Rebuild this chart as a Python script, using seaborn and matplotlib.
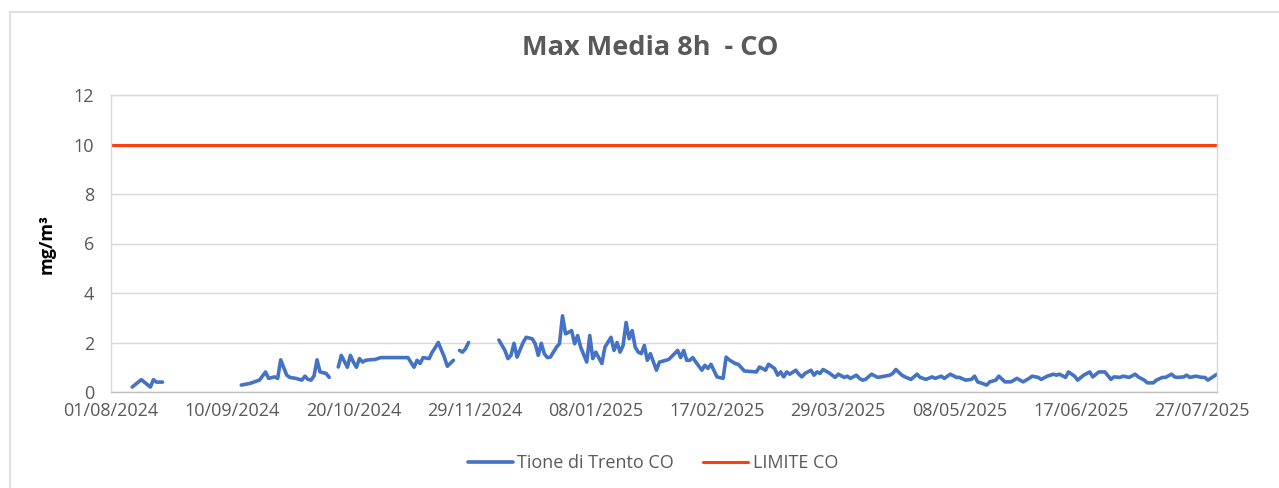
import numpy as np
import pandas as pd
import matplotlib
matplotlib.use("Agg")
import matplotlib.pyplot as plt
import matplotlib.dates as mdates
from matplotlib.patches import Rectangle
import seaborn as sns

# Daily max 8h mean CO (day offset from 01/08/2024, mg/m3)
start_date = "2024-08-01"
days = [
    7, 10, 13, 14, 15, 17, None,
    43, 46, 48, 49, 51, 52, 54, 55, 56, 58, 59, 61, 63, 64, 65, 66, 67, 68, 69, 71, 72, None,
    75, 76, 78, 79, 80, 81, 82, 83, 84, 86, 87, 89, 98, 100, 101, 102, 103, 105, 106, 107, 108,
    110, 111, 113, None,
    115, 116, 117, 118, None,
    128, 130, 131, 132, 133, 134, 136, 137, 139, 140, 141, 142, 143, 144, 145, 147, 148, 149,
    150, 151, 152, 153, 154, 155, 157, 158, 159, 160, 162, 163, 165, 166, 167, 168, 169, 170,
    171, 172, 173, 174, 175, 176, 177, 178, 180, 181, 184, 186, 187, 188, 189, 190, 191, 192,
    193, 195, 196, 197, 198, 200, 202, 203, 204, 206, 207, 209, 213, 214, 215, 216, 217, 219,
    220, 221, 222, 223, 224, 226, 227, 228, 229, 231, 232, 233, 234, 235, 237, 239, 240, 242,
    243, 244, 246, 247, 248, 249, 251, 253, 254, 257, 258, 259, 261, 262, 264, 266, 267, 269,
    271, 272, 274, 275, 277, 279, 280, 282, 284, 285, 286, 287, 289, 290, 292, 293, 295, 297,
    299, 301, 303, 304, 306, 307, 309, 311, 312, 313, 315, 316, 318, 319, 321, 323, 324, 326,
    328, 330, 331, 333, 334, 336, 338, 339, 341, 342, 344, 345, 347, 348, 350, 351, 352, 354,
    355, 356, 358, 360, 361, 362, 364, 365,
]
co_values = [
    0.2, 0.5, 0.2, 0.5, 0.4, 0.4, None,
    0.28, 0.35, 0.44, 0.48, 0.81, 0.55, 0.61, 0.55, 1.3, 0.68, 0.59, 0.55, 0.48, 0.64, 0.51,
    0.48, 0.65, 1.3, 0.81, 0.75, 0.59, None,
    1.01, 1.48, 1.0, 1.48, 1.21, 1.0, 1.35, 1.21, 1.28, 1.31, 1.31, 1.39, 1.39, 1.0, 1.28, 1.15,
    1.39, 1.35, 1.61, 1.79, 2.0, 1.41, 1.04, 1.28, None,
    1.68, 1.61, 1.75, 2.0, None,
    2.1, 1.68, 1.35, 1.48, 1.97, 1.41, 2.0, 2.21, 2.15, 1.95, 1.48, 1.97, 1.55, 1.39, 1.41, 1.81,
    1.95, 3.08, 2.35, 2.41, 2.48, 1.95, 2.28, 1.81, 1.21, 2.28, 1.35, 1.61, 1.15, 1.81, 2.21,
    1.68, 2.0, 1.61, 1.88, 2.81, 2.15, 2.48, 1.81, 1.61, 1.55, 1.88, 1.28, 1.55, 0.88, 1.21,
    1.31, 1.55, 1.68, 1.39, 1.68, 1.28, 1.28, 1.39, 1.21, 0.88, 1.08, 0.95, 1.12, 0.61, 0.55,
    1.41, 1.3, 1.15, 1.12, 0.85, 0.81, 1.01, 0.95, 0.88, 1.12, 0.95, 0.68, 0.81, 0.61, 0.81,
    0.72, 0.88, 0.72, 0.61, 0.75, 0.88, 0.68, 0.81, 0.75, 0.91, 0.77, 0.59, 0.72, 0.59, 0.64,
    0.55, 0.68, 0.55, 0.48, 0.51, 0.72, 0.59, 0.61, 0.68, 0.75, 0.91, 0.68, 0.61, 0.51, 0.72,
    0.59, 0.51, 0.61, 0.55, 0.64, 0.55, 0.72, 0.59, 0.59, 0.48, 0.51, 0.64, 0.41, 0.37, 0.28,
    0.41, 0.48, 0.64, 0.41, 0.41, 0.55, 0.41, 0.55, 0.64, 0.59, 0.51, 0.64, 0.72, 0.68, 0.72,
    0.59, 0.81, 0.64, 0.48, 0.68, 0.81, 0.61, 0.81, 0.81, 0.51, 0.61, 0.59, 0.64, 0.59, 0.72,
    0.61, 0.48, 0.37, 0.37, 0.48, 0.59, 0.59, 0.72, 0.61, 0.59, 0.61, 0.68, 0.59, 0.64, 0.59,
    0.59, 0.48, 0.64, 0.72,
]
limit_value = 10
axis_end_day = 365
tick_days = [0, 40, 80, 120, 160, 200, 240, 280, 320, 360]
y_ticks = [0, 2, 4, 6, 8, 10, 12]

t0 = pd.Timestamp(start_date)
df = pd.DataFrame({
    "Date": [t0 + pd.Timedelta(days=d) if d is not None else pd.NaT for d in days],
    "CO": [v if v is not None else np.nan for v in co_values],
})
# gaps: keep NaN rows between segments so the line breaks
df["Date"] = df["Date"].ffill() + pd.Timedelta(hours=12) * df["Date"].isna()
end_date = t0 + pd.Timedelta(days=axis_end_day)

sns.set_style("white")
plt.rcParams["font.family"] = ["Open Sans", "DejaVu Sans"]

fig = plt.figure(figsize=(12.79, 4.88), dpi=100)
ax = fig.add_axes([111 / 1279, 1 - 392 / 488, (1217 - 111) / 1279, (392 - 95) / 488])

# outer chart border
fig.patches.append(Rectangle((10 / 1279, -0.05), 1.1, 1 - 12 / 488 + 0.05,
                             transform=fig.transFigure, fill=False,
                             edgecolor="#D9D9D9", linewidth=1.2))

ax.plot(df["Date"], df["CO"], color="#4472C4", linewidth=2.6,
        label="Tione di Trento CO", solid_joinstyle="round")
ax.plot([t0, end_date], [limit_value, limit_value], color="#FF3D0F",
        linewidth=2.2, label="LIMITE CO")

ax.set_xlim(t0, end_date)
ax.set_ylim(0, 12)
ax.set_yticks(y_ticks)
ax.set_xticks([t0 + pd.Timedelta(days=d) for d in tick_days])
ax.xaxis.set_major_formatter(mdates.DateFormatter("%d/%m/%Y"))
ax.grid(axis="y", color="#D9D9D9", linewidth=1)
ax.tick_params(axis="both", length=0, labelsize=13, labelcolor="#595959")
ax.tick_params(axis="y", pad=12)
ax.tick_params(axis="x", pad=7)
for s in ax.spines.values():
    s.set_color("#D9D9D9")
    s.set_linewidth(1)
ax.spines["bottom"].set_color("#BFBFBF")

ax.set_ylabel("mg/m³", fontsize=13, fontweight="bold", color="black", labelpad=13)
fig.text(650 / 1279, 1 - 48 / 488, "Max Media 8h  - CO", ha="center", va="center",
         fontsize=19.5, fontweight="bold", color="#595959")

fig.legend(loc="center", bbox_to_anchor=(653 / 1279, 1 - 463 / 488), ncol=2,
           frameon=False, fontsize=13, labelcolor="#595959", handlelength=2.5,
           handletextpad=0.25, columnspacing=1.6)

fig.savefig("out.png", dpi=100)
